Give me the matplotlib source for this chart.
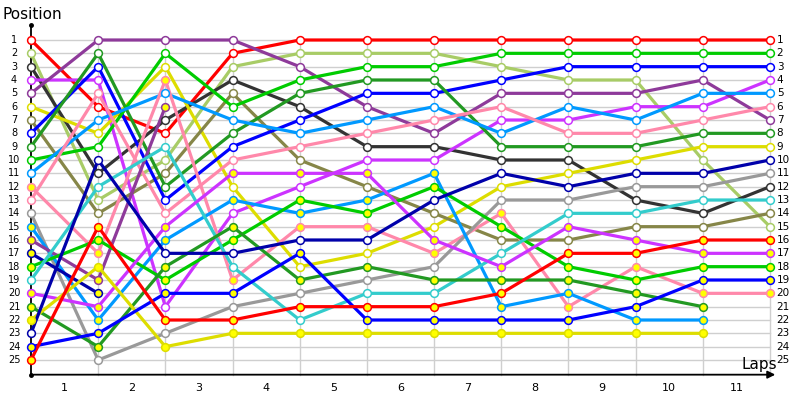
import matplotlib
matplotlib.use("Agg")
import matplotlib.pyplot as plt
import numpy as np

N = np.nan

# lap columns 0..11 and labels
laps = np.arange(12)
lap_labels = [str(i) for i in range(1, 12)]
position_labels = [str(i) for i in range(1, 26)]

# race position of every car after each lap (nan = retired / not classified)
red_1 = [1, 6, 8, 2, 1, 1, 1, 1, 1, 1, 1, 1]
lightgreen_2 = [2, 13, 10, 3, 2, 2, 2, 3, 4, 4, 10, 15]
darkgray_3 = [3, 11, 7, 4, 6, 9, 9, 10, 10, 13, 14, 12]
violet_4 = [4, 4, 21, 14, 12, 10, 10, 7, 7, 6, 6, 4]
purple_5 = [5, 1, 1, 1, 3, 6, 8, 5, 5, 5, 4, 7]
yellow_6 = [6, 8, 3, 12, 18, 17, 15, 12, 11, 10, 9, 9]
olive_7 = [7, 14, 11, 5, 10, 12, 14, 16, 16, 15, 15, 14]
blue_8 = [8, 3, 13, 9, 7, 5, 5, 4, 3, 3, 3, 3]
darkgreen_9 = [9, 2, 12, 8, 5, 4, 4, 9, 9, 9, 8, 8]
green_10 = [10, 9, 2, 6, 4, 3, 3, 2, 2, 2, 2, 2]
lightblue_11 = [11, 7, 5, 7, 8, 7, 6, 8, 6, 7, 5, 5]
pink_12 = [12, 17, 4, 19, 15, 15, 17, 14, 21, 18, 20, 20]
pink_13 = [13, 5, 14, 10, 9, 8, 7, 6, 8, 8, 7, 6]
gray_14 = [14, 25, 23, 21, 20, 19, 18, 13, 13, 12, 12, 11]
lightblue_15 = [15, 22, 16, 13, 14, 13, 11, 21, 20, 22, 22, N]
purple_16 = [16, 19, 6, N, N, N, N, N, N, N, N, N]
darkblue_17 = [17, 20, N, N, N, N, N, N, N, N, N, N]
green_18 = [18, 16, 19, 16, 13, 14, 12, 15, 18, 19, 18, 18]
turquoise_19 = [19, 12, 9, 18, 22, 20, 20, 17, 14, 14, 13, 13]
violet_20 = [20, 21, 15, 11, 11, 11, 16, 18, 15, 16, 17, 17]
darkgreen_21 = [21, 24, 18, 15, 19, 18, 19, 19, 19, 20, 21, N]
yellow_22 = [22, 18, 24, 23, 23, 23, 23, 23, 23, 23, 23, N]
darkblue_23 = [23, 10, 17, 17, 16, 16, 13, 11, 12, 11, 11, 10]
blue_24 = [24, 23, 20, 20, 17, 22, 22, 22, 22, 21, 19, 19]
red_25 = [25, 15, 22, 22, 21, 21, 21, 20, 17, 17, 16, 16]

cars = [red_1, lightgreen_2, darkgray_3, violet_4, purple_5, yellow_6, olive_7,
        blue_8, darkgreen_9, green_10, lightblue_11, pink_12, pink_13, gray_14,
        lightblue_15, purple_16, darkblue_17, green_18, turquoise_19, violet_20,
        darkgreen_21, yellow_22, darkblue_23, blue_24, red_25]

palette = {
    'red': '#ff0000', 'lightgreen': '#a8cc66', 'darkgray': '#333333',
    'violet': '#cc33ff', 'purple': '#8e3a9a', 'yellow': '#dddd00',
    'olive': '#868648', 'blue': '#0000ff', 'darkgreen': '#229922',
    'green': '#00cc00', 'lightblue': '#0099ff', 'pink': '#ff88aa',
    'turquoise': '#33cccc', 'gray': '#999999', 'darkblue': '#0000aa',
}
car_colors = ['red', 'lightgreen', 'darkgray', 'violet', 'purple', 'yellow', 'olive',
              'blue', 'darkgreen', 'green', 'lightblue', 'pink', 'pink', 'gray',
              'lightblue', 'purple', 'darkblue', 'green', 'turquoise', 'violet',
              'darkgreen', 'yellow', 'darkblue', 'blue', 'red']
# second car of a colour gets a yellow marker
car_yellow = [False, False, False, False, False, False, False, False, False, False,
              False, True, False, False, True, True, True, True, False, True,
              True, True, False, True, True]

fig = plt.figure(figsize=(8, 4), dpi=100)
ax = fig.add_axes([0, 0, 1, 1])
# pixel layout: lap 0 at x=31px, lap 11 at 770px; position 1 at y=40px, 25 at 360px
ax.set_xlim(-31 / 67.18, 769 / 67.18)
ax.set_ylim(28, -2)
ax.axis('off')

grid = '#cfcfcf'
for p in range(1, 26):
    ax.plot([0, 11], [p, p], color=grid, lw=1, zorder=1)
for x in laps[1:]:
    ax.plot([x, x], [1, 26.1], color=grid, lw=1, zorder=1)

# axes with arrow
ax.plot([0, 0], [26.1, -0.1], color='black', lw=1.3, zorder=2)
ax.plot([0, 0], [-0.1, 26.1], 'o', color='black', ms=2.5, zorder=2)
ax.annotate('', xy=(11.12, 26.1), xytext=(0, 26.1),
            arrowprops=dict(arrowstyle='-|>', color='black', lw=1.3, mutation_scale=11),
            zorder=2)

for pos, cname, yel in zip(cars, car_colors, car_yellow):
    c = palette[cname]
    ax.plot(laps, pos, color=c, lw=2.3, solid_capstyle='round', zorder=3)
for pos, cname, yel in zip(cars, car_colors, car_yellow):
    c = palette[cname]
    ax.plot(laps, pos, 'o', ms=5.6, mfc='#ffff00' if yel else 'white',
            mec=c, mew=1.1, zorder=4)

for i, lab in enumerate(position_labels):
    ax.text(-0.253, i + 1, lab, ha='center', va='center', fontsize=7)
    ax.text(11.1, i + 1, lab, ha='left', va='center', fontsize=7.5)
for i, lab in enumerate(lap_labels):
    ax.text(i + 0.5, 27.1, lab, ha='center', va='center', fontsize=8)

ax.text(-0.43, -0.9, 'Position', ha='left', va='center', fontsize=11)
ax.text(10.84, 25.3, 'Laps', ha='center', va='center', fontsize=11)

fig.savefig('out.png', dpi=100)
